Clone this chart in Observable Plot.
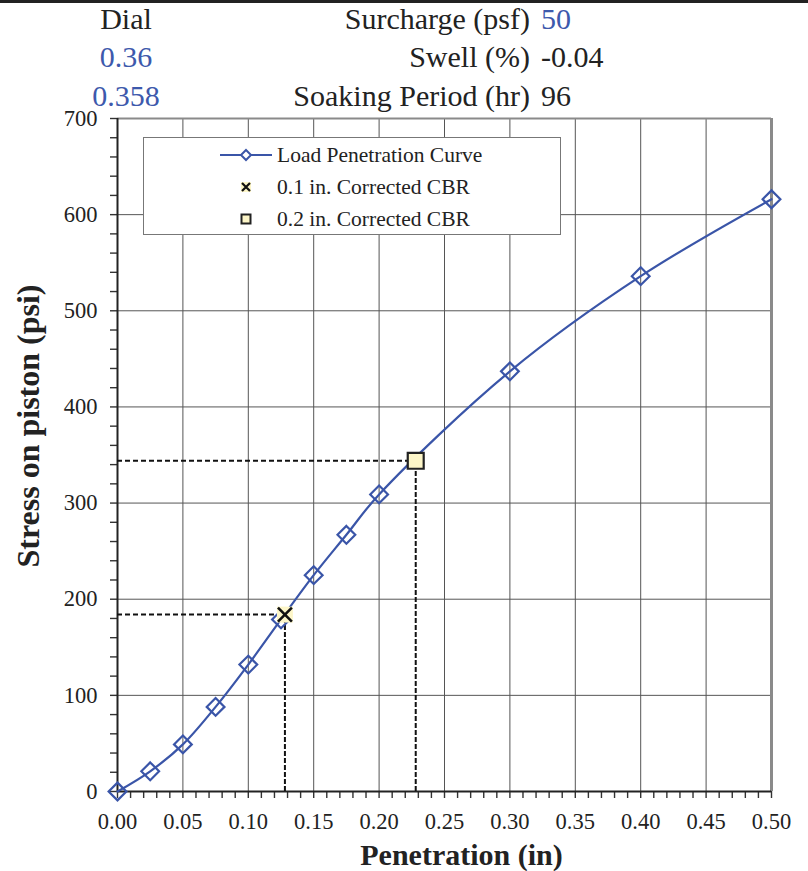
<!DOCTYPE html>
<html>
<head>
<meta charset="utf-8">
<script src="https://cdn.jsdelivr.net/npm/d3@7"></script>
<script src="https://cdn.jsdelivr.net/npm/@observablehq/plot@0.6"></script>
<style>
  html, body { margin: 0; padding: 0; background: #fff; }
  #wrap { position: relative; width: 808px; height: 871px; overflow: hidden; font-family: "Liberation Serif", "Times New Roman", serif; color: #222; }
  #topbar { position: absolute; left: 0; top: 0; width: 808px; height: 3px; background: #222; z-index: 2; }
  #header { position: relative; height: 100px; }
  .h { position: absolute; font-size: 30px; line-height: 30px; white-space: nowrap; }
  .blue { color: #3d59ac; }
  .lab { text-align: right; right: 278px; }
  .val { left: 541px; }
  .dial { left: 66px; width: 120px; text-align: center; }
  #legend { position: absolute; left: 143px; top: 137px; width: 416px; height: 96px; background: #fff; border: 1px solid #777; font-size: 21.5px; }
  .lrow { position: absolute; left: 0; height: 24px; width: 100%; }
  .lrow svg { position: absolute; left: 74px; top: 0; }
  .lrow span { position: absolute; left: 133px; top: 0; line-height: 24px; color: #222; }
</style>
</head>
<body>
<div id="wrap">
  <div id="topbar"></div>
  <div id="header"></div>
  <div id="chart"></div>
  <div id="legend"></div>
</div>
<script>
// ---- data ----
const penetration = [0, 0.025, 0.05, 0.075, 0.1, 0.125, 0.15, 0.175, 0.2, 0.3, 0.4, 0.5];
const stress      = [0, 21, 49, 88, 132, 179, 225, 267, 309, 437, 536, 616];
const corrLabels  = ["0.1 in. Corrected CBR", "0.2 in. Corrected CBR"];
const corrPen     = [0.128, 0.228];
const corrStress  = [184, 344];
const xTicks = [0, 0.05, 0.10, 0.15, 0.20, 0.25, 0.30, 0.35, 0.40, 0.45, 0.50];
const yTicks = [0, 100, 200, 300, 400, 500, 600, 700];
const xMinor = d3.range(0, 51).map(i => i / 100);
const yMinor = d3.range(0, 36).map(i => i * 20);
const headerLeft = [["Dial", false], ["0.36", true], ["0.358", true]];
const headerLabels = ["Surcharge (psf)", "Swell (%)", "Soaking Period (hr)"];
const headerValues = [["50", true], ["-0.04", false], ["96", false]];

const blue = "#3a55a8";
const cream = "#fdf6c8";

// ---- header ----
const header = document.getElementById("header");
const tops = [4, 42, 81];
headerLeft.forEach(([t, b], i) => {
  const d = document.createElement("div");
  d.className = "h dial" + (b ? " blue" : "");
  d.style.top = tops[i] + "px";
  d.textContent = t;
  header.appendChild(d);
});
headerLabels.forEach((t, i) => {
  const d = document.createElement("div");
  d.className = "h lab";
  d.style.top = tops[i] + "px";
  d.textContent = t;
  header.appendChild(d);
  const v = document.createElement("div");
  v.className = "h val" + (headerValues[i][1] ? " blue" : "");
  v.style.top = tops[i] + "px";
  v.textContent = headerValues[i][0];
  header.appendChild(v);
});

// ---- chart ----
const pts = penetration.map((x, i) => ({x, y: stress[i]}));
const corr = corrPen.map((x, i) => ({x, y: corrStress[i], label: corrLabels[i]}));

const chart = Plot.plot({
  width: 808,
  height: 771,
  marginTop: 18,
  marginBottom: 80,
  marginLeft: 117,
  marginRight: 37,
  style: {fontFamily: "Liberation Serif, Times New Roman, serif", color: "#222", background: "transparent", overflow: "visible"},
  x: {domain: [0, 0.5]},
  y: {domain: [0, 700]},
  marks: [
    Plot.gridX(xTicks.slice(1, -1), {stroke: "#555", strokeOpacity: 1}),
    Plot.gridY(yTicks.slice(1, -1), {stroke: "#555", strokeOpacity: 1}),
    Plot.ruleY([700], {stroke: "#8a8a8a", strokeWidth: 2}),
    Plot.ruleX([0.5], {stroke: "#8a8a8a", strokeWidth: 3}),
    // minor ticks (outward)
    Plot.ruleX(xMinor, {y1: 0, y2: 0, insetBottom: -7, stroke: "#333", strokeWidth: 1.4}),
    Plot.ruleY(yMinor, {x1: 0, x2: 0, insetLeft: -7, stroke: "#333", strokeWidth: 1.4}),
    Plot.axisX(xTicks, {tickSize: 0, tickPadding: 22, fontSize: 22.5, tickFormat: d3.format(".2f"), label: null, fill: "#222"}),
    Plot.axisY(yTicks, {tickSize: 0, tickPadding: 20, fontSize: 22.5, tickFormat: d3.format("d"), label: null, fill: "#222"}),
    Plot.ruleY([0], {stroke: "#222", strokeWidth: 2}),
    Plot.ruleX([0], {stroke: "#222", strokeWidth: 2}),
    Plot.ruleY(corr, {x1: 0, x2: "x", y: "y", stroke: "#111", strokeWidth: 2, strokeDasharray: "5,3"}),
    Plot.ruleX(corr, {x: "x", y1: 0, y2: "y", stroke: "#111", strokeWidth: 2, strokeDasharray: "5,2"}),
    Plot.line(pts, {x: "x", y: "y", stroke: blue, strokeWidth: 2.2, curve: "catmull-rom"}),
    Plot.dot(pts, {x: "x", y: "y", symbol: "diamond2", r: 8, stroke: blue, strokeWidth: 2.2, fill: "none"}),
    Plot.dot(corr.slice(0, 1), {x: "x", y: "y", symbol: "square", r: 9, fill: cream, stroke: "none"}),
    Plot.dot(corr.slice(0, 1), {x: "x", y: "y", symbol: "times", r: 6.4, stroke: "#111", strokeWidth: 2.6}),
    Plot.dot(corr.slice(1), {x: "x", y: "y", symbol: "square", r: 9, fill: cream, stroke: "#222", strokeWidth: 2.2}),
    Plot.text(["Penetration (in)"], {frameAnchor: "bottom", textAnchor: "middle", lineAnchor: "middle", dx: 17, dy: 64, fontSize: 30, fontWeight: "bold", fill: "#222"}),
    Plot.text(["Stress on piston (psi)"], {frameAnchor: "left", textAnchor: "middle", lineAnchor: "middle", rotate: -90, dx: -89, dy: -29, fontSize: 32, fontWeight: "bold", fill: "#222"})
  ]
});
document.getElementById("chart").appendChild(chart);

// ---- legend ----
const legend = document.getElementById("legend");
const legendItems = [
  {label: "Load Penetration Curve", sym: `<line x1="2" y1="12" x2="54" y2="12" stroke="${blue}" stroke-width="2.2"/><path d="M28,7 L33,12 L28,17 L23,12 Z" fill="#fff" stroke="${blue}" stroke-width="2"/>`},
  {label: corrLabels[0], sym: `<rect x="23" y="7" width="10" height="10" fill="${cream}"/><path d="M24,8 L32,16 M24,16 L32,8" stroke="#111" stroke-width="2.2"/>`},
  {label: corrLabels[1], sym: `<rect x="23.5" y="7.5" width="9" height="9" fill="${cream}" stroke="#222" stroke-width="2"/>`}
];
const rowTops = [5, 37, 69];
legendItems.forEach((it, i) => {
  const r = document.createElement("div");
  r.className = "lrow";
  r.style.top = rowTops[i] + "px";
  r.innerHTML = `<svg width="56" height="24" viewBox="0 0 56 24">${it.sym}</svg><span>${it.label}</span>`;
  legend.appendChild(r);
});
</script>
</body>
</html>
